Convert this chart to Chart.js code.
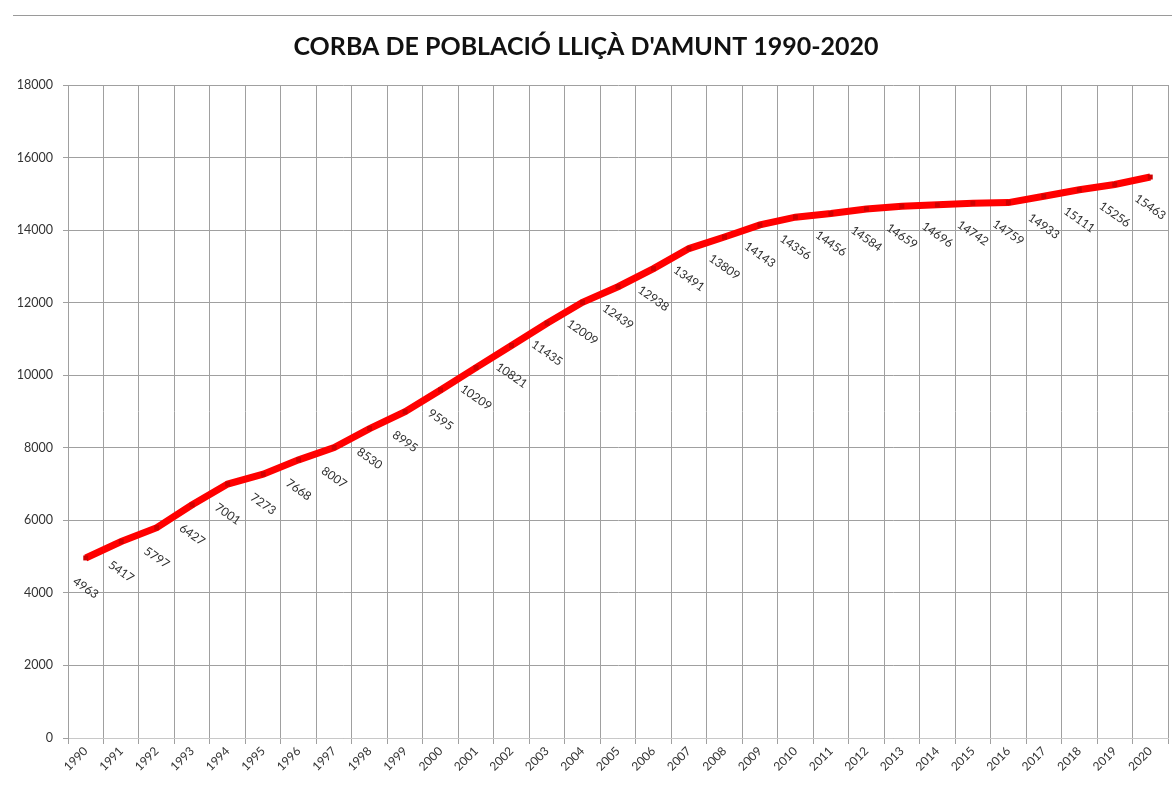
<!DOCTYPE html>
<html>
<head>
<meta charset="utf-8">
<script src="https://cdn.jsdelivr.net/npm/chart.js@4.4.1/dist/chart.umd.min.js"></script>
<style>
  html, body { margin: 0; padding: 0; background: #ffffff; }
  #wrap { position: relative; width: 1172px; height: 786px; overflow: hidden; }
  #topline { position: absolute; left: 13px; right: 0; top: 15px; height: 1px; background: #9a9a9a; }
  canvas { position: absolute; left: 0; top: 0; }
</style>
</head>
<body>
<div id="wrap">
  <div id="topline"></div>
  <canvas id="c" width="1172" height="786"></canvas>
</div>
<script>
const years = ["1990","1991","1992","1993","1994","1995","1996","1997","1998","1999","2000","2001","2002","2003","2004","2005","2006","2007","2008","2009","2010","2011","2012","2013","2014","2015","2016","2017","2018","2019","2020"];
const population = [4963,5417,5797,6427,7001,7273,7668,8007,8530,8995,9595,10209,10821,11435,12009,12439,12938,13491,13809,14143,14356,14456,14584,14659,14696,14742,14759,14933,15111,15256,15463];
const titleText = "CORBA DE POBLACIÓ LLIÇÀ D'AMUNT 1990-2020";
const yMin = 0, yMax = 18000, yStep = 2000;

const valueLabels = {
  id: 'valueLabels',
  afterDatasetsDraw(chart) {
    const ctx = chart.ctx;
    const meta = chart.getDatasetMeta(0);
    ctx.save();
    ctx.font = '12px Lato, "Liberation Sans", sans-serif';
    ctx.fillStyle = '#2e2e2e';
    ctx.textAlign = 'center';
    ctx.textBaseline = 'middle';
    meta.data.forEach((pt, i) => {
      ctx.save();
      ctx.translate(pt.x, pt.y + 30);
      ctx.rotate(35 * Math.PI / 180);
      ctx.fillText(String(population[i]), 0, 0);
      ctx.restore();
    });
    ctx.restore();
  }
};

new Chart(document.getElementById('c'), {
  type: 'line',
  data: {
    labels: years,
    datasets: [{
      data: population,
      borderColor: '#ff0000',
      borderWidth: 7,
      backgroundColor: '#d80000',
      pointStyle: 'rect',
      pointRadius: 3.5,
      pointBorderWidth: 0,
      pointBackgroundColor: '#d00000',
      tension: 0,
      fill: false
    }]
  },
  options: {
    responsive: false,
    animation: false,
    devicePixelRatio: 1,
    layout: { padding: { left: 0, right: 0, top: 0, bottom: 0 } },
    plugins: {
      legend: { display: false },
      tooltip: { enabled: false },
      title: {
        display: true,
        text: titleText,
        color: '#111111',
        font: { family: 'Lato, "Liberation Sans", sans-serif', size: 25, weight: 'bold', lineHeight: 1.2 },
        padding: { top: 32, bottom: 23 }
      }
    },
    scales: {
      x: {
        offset: true,
        grid: { offset: true, color: '#a0a0a0', lineWidth: 1, tickLength: 6, drawTicks: true },
        border: { color: '#c8c8c8', width: 1 },
        ticks: {
          autoSkip: false,
          minRotation: 45,
          maxRotation: 45,
          padding: 0,
          color: '#333333',
          font: { family: 'Lato, "Liberation Sans", sans-serif', size: 12 }
        },
        afterFit(scale) { scale.height = 48; }
      },
      y: {
        min: yMin,
        max: yMax,
        grid: { color: '#a0a0a0', lineWidth: 1, tickLength: 5 },
        border: { color: '#a0a0a0', width: 1 },
        ticks: {
          stepSize: yStep,
          padding: 10,
          color: '#333333',
          font: { family: 'Lato, "Liberation Sans", sans-serif', size: 12.5 },
          callback: (v) => String(v)
        },
        afterFit(scale) { scale.width = 68; }
      }
    }
  },
  plugins: [valueLabels]
});
</script>
</body>
</html>
